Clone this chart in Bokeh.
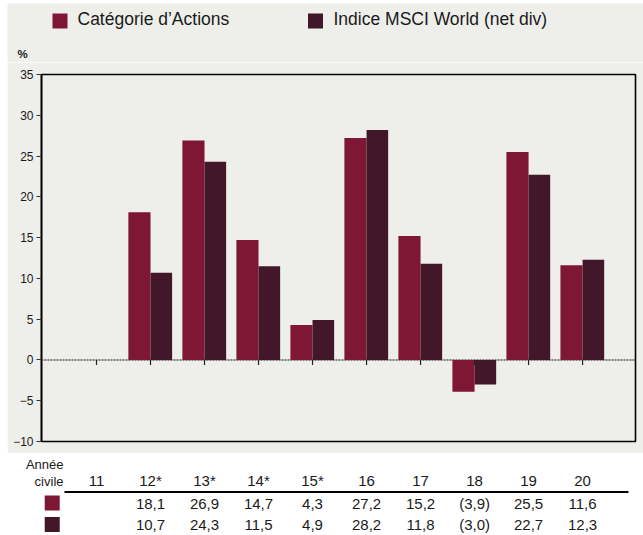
import numpy as np
from bokeh.plotting import figure
from bokeh.models import ColumnDataSource, Range1d, FixedTicker, Span, Spacer
from bokeh.layouts import column, row
from bokeh.embed import file_html
from bokeh.resources import INLINE
from bokeh.core.properties import value
from bokeh.transform import dodge

# ---------------- data ----------------
years = ["11", "12*", "13*", "14*", "15*", "16", "17", "18", "19", "20"]
cat_actions = [None, 18.1, 26.9, 14.7, 4.3, 27.2, 15.2, -3.9, 25.5, 11.6]
msci_world = [None, 10.7, 24.3, 11.5, 4.9, 28.2, 11.8, -3.0, 22.7, 12.3]
series_names = ["Catégorie d’Actions", "Indice MSCI World (net div)"]
y_ticks = [-10, -5, 0, 5, 10, 15, 20, 25, 30, 35]
row_title = ["Année", "civile"]
unit_label = "%"

# ---------------- style ----------------
RED = "#7E1734"
DARK = "#43172A"
GRAY = "#EEEEEA"
TXT = "#1a1a1a"
FONT = "Liberation Sans"

W = 636               # figures start at x = 7
H_HEAD, H_CHART, H_TAB = 59, 391, 81
B_LEFT, B_RIGHT, B_TOP, B_BOTTOM = 34, 8, 12, 12
X0, X1 = -1.0185, 9.98
Y0, Y1 = -10, 35
PXU = (W - B_LEFT - B_RIGHT) / (X1 - X0)   # pixels per category unit


def fmt(v):
    if v is None or (isinstance(v, float) and np.isnan(v)):
        return ""
    s = f"{abs(v):.1f}".replace(".", ",")
    return f"({s})" if v < 0 else s


xpos = list(range(len(years)))
src = ColumnDataSource(dict(
    x=xpos,
    years=years,
    cat=np.array(cat_actions, dtype=float),
    msci=np.array(msci_world, dtype=float),
    cat_txt=[fmt(v) for v in cat_actions],
    msci_txt=[fmt(v) for v in msci_world],
))

common = dict(output_backend="svg", toolbar_location=None, frame_align=False)

# ---------------- header (legend + unit) ----------------
h = figure(width=W, height=H_HEAD, x_range=Range1d(0, W), y_range=Range1d(H_HEAD, 0),
           min_border_left=0, min_border_right=0, min_border_top=0, min_border_bottom=0,
           background_fill_color=GRAY, border_fill_color=GRAY, outline_line_color=None, **common)
h.axis.visible = False
h.grid.visible = False
h.rect(x=[52.5, 308], y=[17.5, 17.5], width=15, height=15, fill_color=[RED, DARK], line_color=None)
h.text(x=[70, 326], y=[15.5, 15.5], text=series_names, text_align="left", text_baseline="middle",
       text_font=value(FONT), text_font_size="17.5px", text_color=TXT)
h.text(x=[10], y=[50], text=[unit_label], text_align="left", text_baseline="middle",
       text_font=value(FONT), text_font_size="11.5px", text_font_style="bold", text_color=TXT)

# ---------------- chart ----------------
p = figure(width=W, height=H_CHART, x_range=Range1d(X0, X1), y_range=Range1d(Y0, Y1),
           min_border_left=B_LEFT, min_border_right=B_RIGHT,
           min_border_top=B_TOP, min_border_bottom=B_BOTTOM,
           background_fill_color=GRAY, border_fill_color=GRAY,
           outline_line_color="black", outline_line_width=1.6, **common)
p.xaxis.visible = False
p.grid.visible = False

ya = p.yaxis[0]
ya.ticker = FixedTicker(ticks=y_ticks, minor_ticks=[])
ya.major_tick_out = 5
ya.major_tick_in = 0
ya.minor_tick_out = 0
ya.axis_line_width = 1.6
ya.axis_line_color = "black"
ya.major_tick_line_color = "#333333"
ya.major_label_text_font = FONT
ya.major_label_text_font_size = "12px"
ya.major_label_text_color = TXT
ya.major_label_standoff = 3

p.add_layout(Span(location=0, dimension="width", line_color="#7a7a7a", line_dash="2 1",
                  line_width=2, level="underlay"))

p.vbar(x=dodge("x", -0.205, range=p.x_range), top="cat", bottom=0, width=0.41,
       source=src, fill_color=RED, line_color=None)
p.vbar(x=dodge("x", 0.2, range=p.x_range), top="msci", bottom=0, width=0.4,
       source=src, fill_color=DARK, line_color=None)

frame_h = H_CHART - B_TOP - B_BOTTOM
tick_len = 5 * (Y1 - Y0) / frame_h
p.segment(x0="x", y0=0, x1="x", y1=-tick_len, source=src, line_color="#222222", line_width=1.2)

# ---------------- table ----------------
q = figure(width=W, height=H_TAB,
           x_range=Range1d(X0 - B_LEFT / PXU, X1 + B_RIGHT / PXU), y_range=Range1d(H_TAB, 0),
           min_border_left=0, min_border_right=0, min_border_top=0, min_border_bottom=0,
           background_fill_color="white", border_fill_color="white", outline_line_color=None,
           **common)
q.axis.visible = False
q.grid.visible = False

TABLE_FS = "15px"
q.text(x=[-0.611, -0.611], y=[10.5, 27.5], text=row_title, text_align="right",
       text_baseline="middle", text_font=value(FONT), text_font_size="13px", text_color=TXT)
q.text(x="x", y=27, text="years", source=src, text_align="center", text_baseline="middle",
       text_font=value(FONT), text_font_size=TABLE_FS, text_color=TXT)
q.segment(x0=[-0.593], y0=[38.5], x1=[9.85], y1=[38.5], line_color="black", line_width=2)
q.text(x="x", y=50, text="cat_txt", source=src, text_align="center", text_baseline="middle",
       text_font=value(FONT), text_font_size=TABLE_FS, text_color=TXT)
q.text(x="x", y=71, text="msci_txt", source=src, text_align="center", text_baseline="middle",
       text_font=value(FONT), text_font_size=TABLE_FS, text_color=TXT)
q.rect(x=[-0.82, -0.82], y=[49.5, 71], width=15, height=15, width_units="screen",
       height_units="screen", fill_color=[RED, DARK], line_color=None)

layout = column(Spacer(height=3),
                row(Spacer(width=7), column(h, p, q, spacing=0), spacing=0),
                spacing=0)
open("out.html", "w").write(file_html(layout, INLINE))
